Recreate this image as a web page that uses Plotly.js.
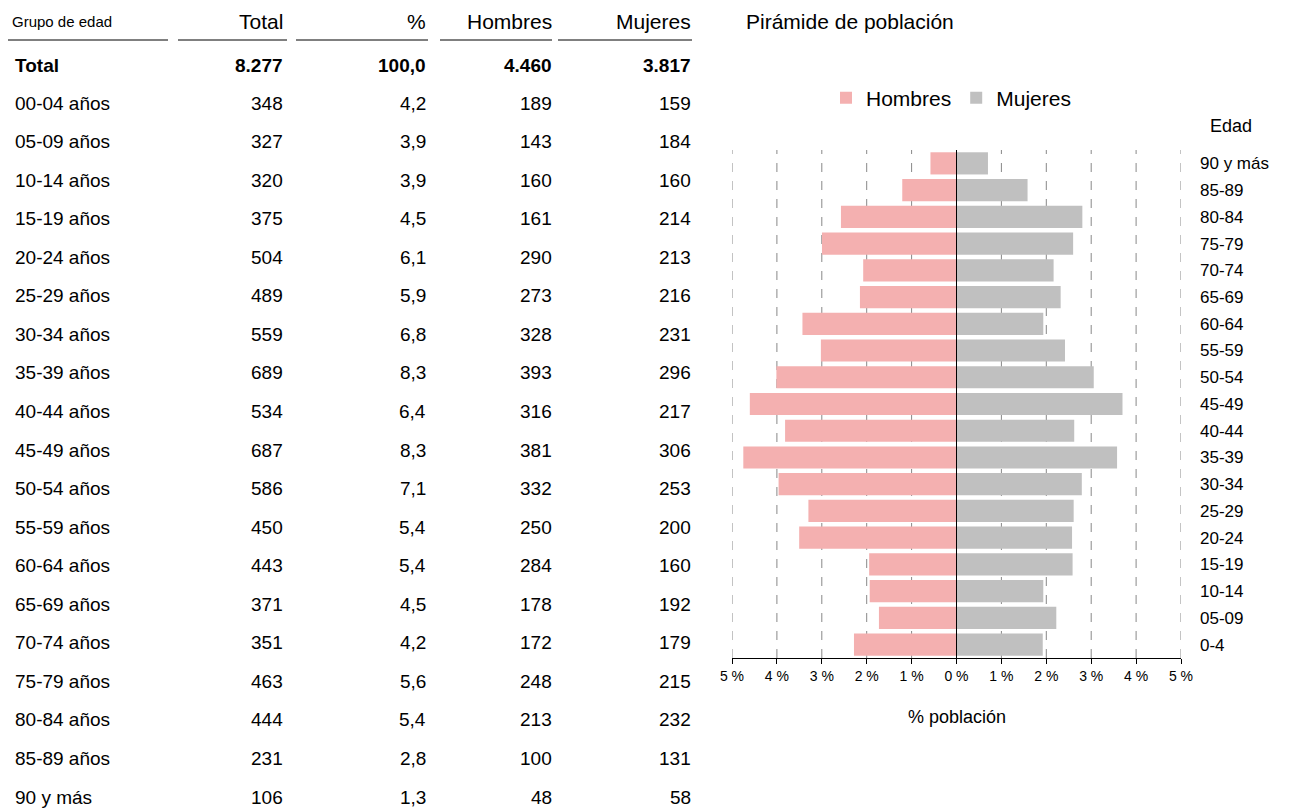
<!DOCTYPE html>
<html><head><meta charset="utf-8">
<script src="https://cdn.plot.ly/plotly-3.0.1.min.js"></script>
<style>body{margin:0;background:#fff}#plot{width:1297px;height:809px}</style>
</head><body><div id="plot"></div>
<script>
var grupos = ["00-04 años","05-09 años","10-14 años","15-19 años","20-24 años","25-29 años","30-34 años","35-39 años","40-44 años","45-49 años","50-54 años","55-59 años","60-64 años","65-69 años","70-74 años","75-79 años","80-84 años","85-89 años","90 y más"];
var totales = [348,327,320,375,504,489,559,689,534,687,586,450,443,371,351,463,444,231,106];
var pct = ["4,2","3,9","3,9","4,5","6,1","5,9","6,8","8,3","6,4","8,3","7,1","5,4","5,4","4,5","4,2","5,6","5,4","2,8","1,3"];
var hombres = [189,143,160,161,290,273,328,393,316,381,332,250,284,178,172,248,213,100,48];
var mujeres = [159,184,160,214,213,216,231,296,217,306,253,200,160,192,179,215,232,131,58];
var edades = ["0-4","05-09","10-14","15-19","20-24","25-29","30-34","35-39","40-44","45-49","50-54","55-59","60-64","65-69","70-74","75-79","80-84","85-89","90 y más"];
var totalPob = 8277, totalH = 4460, totalM = 3817;

var W = 1297, H = 809;
function px(x){return x/W;}
function py(y){return 1 - y/H;}
function fmt(n){return n.toString().replace(/\B(?=(\d{3})+(?!\d))/g,".");}

var ann = [], shapes = [];
var FF = "Liberation Sans, Arial";
var font = {family:FF, size:19, color:"#000"};
function txt(x,y,t,anchor,f){ann.push({xref:"paper",yref:"paper",x:px(x),y:py(y),text:t,showarrow:false,xanchor:anchor,yanchor:"middle",font:f||font});}

// header
txt(10,22,"Grupo de edad","left",{family:FF,size:15,color:"#000"});
var hf = {family:FF,size:21,color:"#000"};
var cols = [[285,"Total",178,287],[428,"%",296,428],[554,"Hombres",440,552],[693,"Mujeres",558,692]];
cols.forEach(function(c){txt(c[0],22,c[1],"right",hf);});
[[8,168]].concat(cols.map(function(c){return [c[2],c[3]];})).forEach(function(s){
  shapes.push({type:"line",xref:"paper",yref:"paper",x0:px(s[0]),x1:px(s[1]),y0:py(40),y1:py(40),line:{color:"#000",width:1}});
});
var bold = {family:FF,size:19,color:"#000"};
txt(13,65,"<b>Total</b>","left",bold);
txt(285,65,"<b>"+fmt(totalPob)+"</b>","right",bold);
txt(428,65,"<b>100,0</b>","right",bold);
txt(554,65,"<b>"+fmt(totalH)+"</b>","right",bold);
txt(693,65,"<b>"+fmt(totalM)+"</b>","right",bold);
grupos.forEach(function(g,i){
  var y = 103 + i*38.56;
  txt(13,y,g,"left");
  txt(285,y,fmt(totales[i]),"right");
  txt(428,y,pct[i],"right");
  txt(554,y,fmt(hombres[i]),"right");
  txt(693,y,fmt(mujeres[i]),"right");
});
txt(744,22,"Pirámide de población","left",{family:FF,size:21,color:"#000"});
txt(1208,126,"Edad","left",{family:FF,size:18,color:"#000"});
txt(957,717,"% población","center",{family:FF,size:18,color:"#000"});

// gridlines and center line
for (var k=-5;k<=5;k++){
  shapes.push({type:"line",xref:"x",yref:"paper",x0:k,x1:k,y0:py(658),y1:py(150),
    line:{color:k===0?"#000":"#888",width:1,dash:k===0?"solid":"dash"},layer:k===0?"above":"below"});
}

var hPct = hombres.map(function(v){return -v/totalPob*100;});
var mPct = mujeres.map(function(v){return v/totalPob*100;});

var data = [
  {type:"bar",orientation:"h",y:edades,x:hPct,name:"Hombres",marker:{color:"#f4b0b0"},hoverinfo:"skip"},
  {type:"bar",orientation:"h",y:edades,x:mPct,name:"Mujeres",marker:{color:"#c0c0c0"},hoverinfo:"skip"}
];
var tv=[],tt=[];
for (var k=-5;k<=5;k++){tv.push(k);tt.push(Math.abs(k)+" %");}
var layout = {
  width:W,height:H,margin:{l:0,r:0,t:0,b:0},paper_bgcolor:"#fff",plot_bgcolor:"rgba(0,0,0,0)",
  barmode:"relative",bargap:0.17,showlegend:true,
  font:{family:FF,color:"#000"},
  legend:{orientation:"h",x:px(826),y:py(98),yanchor:"middle",xanchor:"left",font:{size:21},traceorder:"normal",itemwidth:30},
  xaxis:{domain:[px(732),px(1181)],range:[-5,5],tickvals:tv,ticktext:tt,showgrid:false,zeroline:false,
    showline:true,linecolor:"#000",ticks:"outside",ticklen:5,tickcolor:"#000",tickfont:{size:14},fixedrange:true},
  yaxis:{type:"category",domain:[py(658),py(150)],side:"right",showgrid:false,zeroline:false,showline:false,
    tickfont:{size:17},ticklabelstandoff:18,categoryorder:"array",categoryarray:edades,fixedrange:true},
  annotations:ann,shapes:shapes
};
Plotly.newPlot("plot",data,layout,{displayModeBar:false,staticPlot:true});
</script></body></html>
